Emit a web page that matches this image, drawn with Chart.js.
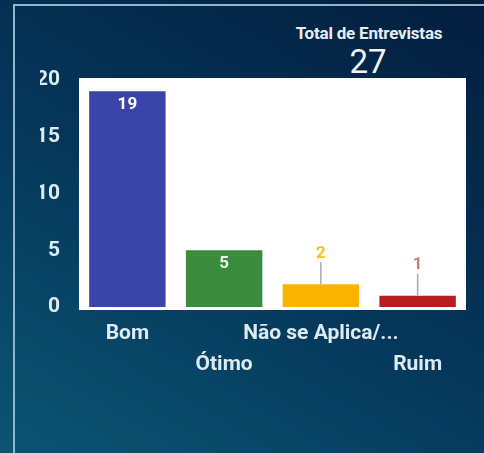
<!DOCTYPE html>
<html lang="pt">
  <head>
    <meta charset="UTF-8" />
    <title>Total de Entrevistas</title>
    <style>
      html, body {
        margin: 0;
        width: 484px;
        height: 453px;
        overflow: hidden;
        font-family: Roboto, "Noto Sans", sans-serif;
      }
      .panel {
        position: relative;
        width: 484px;
        height: 453px;
        background: linear-gradient(30deg, #0b5572 0%, #05385c 45%, #031d3d 100%);
      }
      .frame {
        position: absolute;
        left: 13px;
        top: 4px;
        right: -2px;
        bottom: -2px;
        border-left: 2px solid #8fb6cf;
        border-top: 2px solid #8fb6cf;
      }
      .total-title {
        position: absolute;
        left: 269px;
        width: 200px;
        top: 23px;
        text-align: center;
        color: #e4edf3;
        font-size: 17px;
        font-weight: bold;
        letter-spacing: -0.2px;
      }
      .total-value {
        position: absolute;
        left: 268px;
        width: 200px;
        top: 43px;
        text-align: center;
        color: #eef4f8;
        font-size: 33px;
        line-height: 38px;
      }
      #chart {
        position: absolute;
        left: 0;
        top: 0;
      }
    </style>
    <script src="https://cdn.jsdelivr.net/npm/chart.js"></script>
  </head>
  <body>
    <div class="panel">
      <div class="frame"></div>
      <div class="total-title">Total de Entrevistas</div>
      <div class="total-value" id="total"></div>
      <canvas id="chart" width="484" height="453"></canvas>
    </div>
    <script>
      var categories = ["Bom", "Ótimo", "Não se Aplica/...", "Ruim"];
      var counts = [19, 5, 2, 1];
      var yTicks = [0, 5, 10, 15, 20];
      var totalInterviews = 27;

      var barColors = ["#3b45a9", "#3a8c3c", "#fab300", "#b71d1e"];
      var labelColors = ["#ffffff", "#e8f3e4", "#f3c418", "#cc7e7e"];

      document.getElementById("total").textContent = totalInterviews;

      // staggered x labels: every second one goes on the second line
      var xLabels = categories.map(function (c, i) {
        return i % 2 === 0 ? [c] : ["", c];
      });

      var plotBackground = {
        id: "plotBackground",
        beforeDraw: function (chart) {
          var a = chart.chartArea;
          var ctx = chart.ctx;
          ctx.save();
          ctx.fillStyle = "#ffffff";
          ctx.fillRect(a.left, a.top - 2, a.right - a.left, a.bottom - a.top + 5);
          ctx.restore();
        },
      };

      var barValues = {
        id: "barValues",
        afterDatasetsDraw: function (chart) {
          var ctx = chart.ctx;
          var meta = chart.getDatasetMeta(0);
          ctx.save();
          ctx.font = "bold 17px Roboto";
          ctx.textAlign = "center";
          ctx.textBaseline = "middle";
          meta.data.forEach(function (bar, i) {
            var v = counts[i];
            var h = bar.base - bar.y;
            if (h > 40) {
              ctx.fillStyle = labelColors[i];
              ctx.fillText(v, bar.x, bar.y + 13);
            } else {
              ctx.strokeStyle = "#a9a9a9";
              ctx.lineWidth = 1.5;
              ctx.beginPath();
              ctx.moveTo(bar.x, bar.y - 22);
              ctx.lineTo(bar.x, bar.y);
              ctx.stroke();
              ctx.fillStyle = labelColors[i];
              ctx.fillText(v, bar.x, bar.y - 31);
            }
          });
          ctx.restore();
        },
      };

      new Chart(document.getElementById("chart"), {
        type: "bar",
        data: {
          labels: xLabels,
          datasets: [
            {
              data: counts,
              backgroundColor: barColors,
              barPercentage: 0.79,
              categoryPercentage: 1,
            },
          ],
        },
        options: {
          responsive: false,
          animation: false,
          layout: { padding: { left: 40, top: 80, right: 18, bottom: 70 } },
          plugins: { legend: { display: false }, tooltip: { enabled: false } },
          scales: {
            x: {
              grid: { display: false, drawTicks: false },
              border: { display: false },
              afterFit: function (axis) {
                axis.height = 76;
              },
              ticks: {
                color: "#dcebf3",
                font: { family: "Roboto", size: 21, weight: "bold", lineHeight: 1.48 },
                padding: 11,
                maxRotation: 0,
                autoSkip: false,
              },
            },
            y: {
              min: 0,
              max: 20,
              afterBuildTicks: function (axis) {
                axis.ticks = yTicks.map(function (v) {
                  return { value: v };
                });
              },
              afterFit: function (axis) {
                axis.width = 39;
              },
              grid: { display: false, drawTicks: false },
              border: { display: false },
              ticks: {
                color: "#dcebf3",
                font: { family: "Roboto", size: 21, weight: "bold" },
                padding: 19,
              },
            },
          },
        },
        plugins: [plotBackground, barValues],
      });
    </script>
  </body>
</html>
